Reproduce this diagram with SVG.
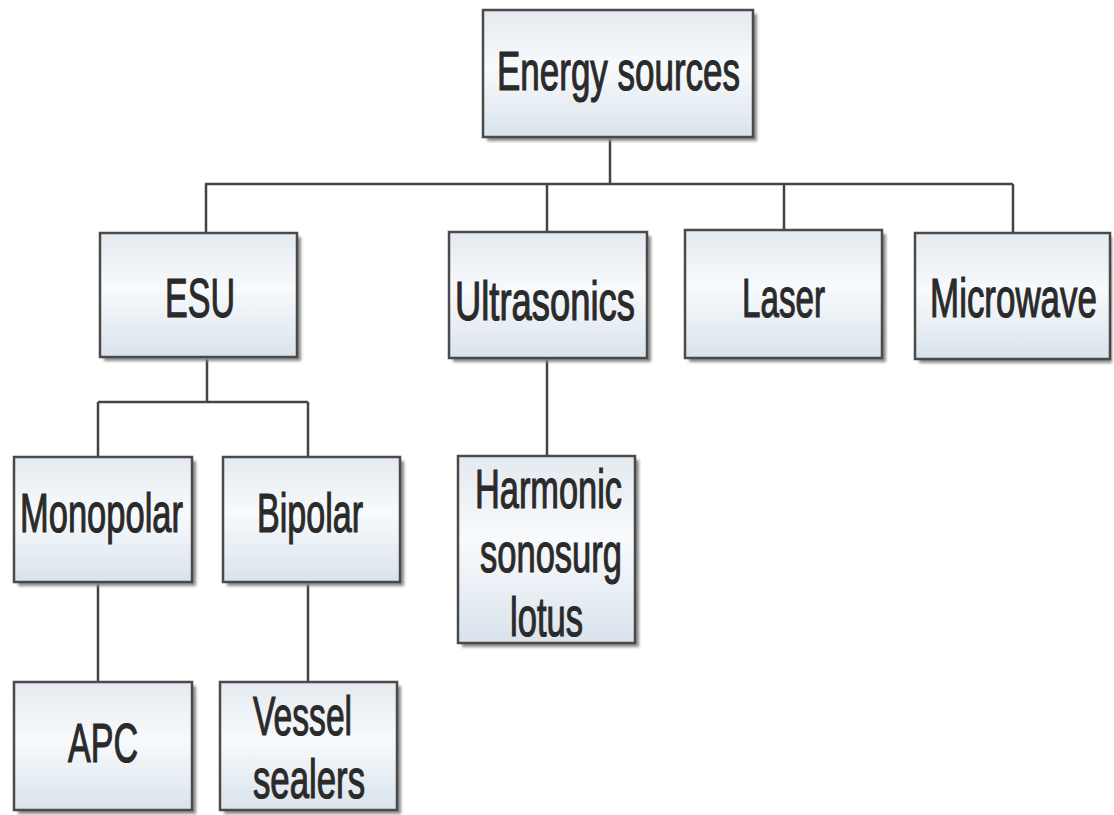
<svg xmlns="http://www.w3.org/2000/svg" width="1114" height="815" viewBox="0 0 1114 815">
<defs>
<linearGradient id="bg" x1="0" y1="0" x2="0" y2="1">
<stop offset="0" stop-color="#e4eaf0"/>
<stop offset="0.45" stop-color="#f8fafc"/>
<stop offset="1" stop-color="#d9e3ec"/>
</linearGradient>
<filter id="sh" x="-10%" y="-10%" width="130%" height="130%">
<feGaussianBlur stdDeviation="1.8"/>
</filter>
<style>
.box{fill:url(#bg);stroke:#4a4a4a;stroke-width:2.5}
.shadow{fill:#8a8a8a;filter:url(#sh)}
.t{font-family:"Liberation Sans",Arial,sans-serif;font-size:55px;fill:#2a2a2a;stroke:#2a2a2a;stroke-width:1.2;text-anchor:middle}
.c{stroke:#444;stroke-width:2.5;fill:none}
</style>
</defs>
<rect width="1114" height="815" fill="#ffffff"/>
<g id="connectors">
<path class="c" d="M610 137V184M205 184H1013M206 184V233M547 184V232M784 184V230M1013 184V233M207 357V402M98 402H308M98 402V457M308 402V457M547 358V456M98 582V682M308 582V682"/>
</g>
<g id="energy-sources">
<rect class="shadow" x="487" y="14" width="270" height="127"/>
<rect class="box" x="483" y="10" width="270" height="127"/>
<text class="t" transform="translate(618.5 90) scale(0.636 1)">Energy sources</text>
</g>
<g id="esu">
<rect class="shadow" x="104" y="237" width="197" height="124"/>
<rect class="box" x="100" y="233" width="197" height="124"/>
<text class="t" transform="translate(200 317) scale(0.619 1)">ESU</text>
</g>
<g id="ultrasonics">
<rect class="shadow" x="453" y="236" width="198" height="126"/>
<rect class="box" x="449" y="232" width="198" height="126"/>
<text class="t" transform="translate(545 320) scale(0.662 1)">Ultrasonics</text>
</g>
<g id="laser">
<rect class="shadow" x="689" y="234" width="197" height="128"/>
<rect class="box" x="685" y="230" width="197" height="128"/>
<text class="t" transform="translate(783.5 317) scale(0.603 1)">Laser</text>
</g>
<g id="microwave">
<rect class="shadow" x="919" y="237" width="193" height="126"/>
<rect class="box" x="915" y="233" width="195" height="126"/>
<text class="t" transform="translate(1013.5 317) scale(0.635 1)">Microwave</text>
</g>
<g id="monopolar">
<rect class="shadow" x="18" y="461" width="178" height="125"/>
<rect class="box" x="14" y="457" width="178" height="125"/>
<text class="t" transform="translate(101.5 532) scale(0.627 1)">Monopolar</text>
</g>
<g id="bipolar">
<rect class="shadow" x="227" y="461" width="177" height="125"/>
<rect class="box" x="223" y="457" width="177" height="125"/>
<text class="t" transform="translate(310 532) scale(0.619 1)">Bipolar</text>
</g>
<g id="harmonic">
<rect class="shadow" x="462" y="460" width="177" height="187"/>
<rect class="box" x="458" y="456" width="177" height="187"/>
<text class="t" transform="translate(548.5 508) scale(0.625 1)">Harmonic</text>
<text class="t" transform="translate(551 572) scale(0.628 1)">sonosurg</text>
<text class="t" transform="translate(546.5 636) scale(0.628 1)">lotus</text>
</g>
<g id="apc">
<rect class="shadow" x="18" y="686" width="178" height="128"/>
<rect class="box" x="14" y="682" width="178" height="128"/>
<text class="t" transform="translate(103 762) scale(0.619 1)">APC</text>
</g>
<g id="vessel-sealers">
<rect class="shadow" x="224" y="686" width="177" height="128"/>
<rect class="box" x="220" y="682" width="177" height="128"/>
<text class="t" transform="translate(302.5 735) scale(0.612 1)">Vessel</text>
<text class="t" transform="translate(309 798) scale(0.632 1)">sealers</text>
</g>
</svg>
